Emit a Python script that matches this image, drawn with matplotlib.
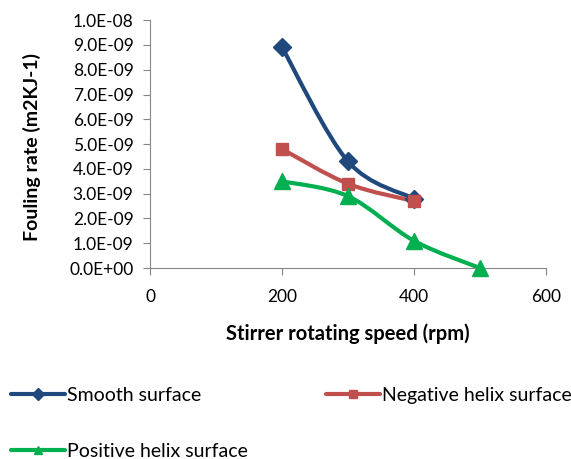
import matplotlib
matplotlib.use("Agg")
import matplotlib.pyplot as plt
from matplotlib.path import Path
from matplotlib.patches import PathPatch
from matplotlib.lines import Line2D
from matplotlib.ticker import FuncFormatter, MultipleLocator
import numpy as np

plt.rcParams['font.family'] = ['Lato', 'DejaVu Sans']

speed = [200, 300, 400, 500]
smooth = [8.9e-9, 4.3e-9, 2.8e-9]
negative = [4.8e-9, 3.4e-9, 2.7e-9]
positive = [3.5e-9, 2.9e-9, 1.1e-9, 0.0]

names = ["Smooth surface", "Negative helix surface", "Positive helix surface"]
colors = ["#1F497D", "#C0504D", "#00B050"]
markers = ["D", "s", "^"]
msizes = [9, 9, 11]


def smooth_path(x, y):
    # excel-like smoothed line: catmull-rom turned into bezier segments
    p = np.column_stack([x, y]).astype(float)
    verts = [p[0]]
    codes = [Path.MOVETO]
    n = len(p)
    for i in range(n - 1):
        p0 = p[i - 1] if i > 0 else p[i]
        p1, p2 = p[i], p[i + 1]
        p3 = p[i + 2] if i + 2 < n else p[i + 1]
        verts += [p1 + (p2 - p0) / 6, p2 - (p3 - p1) / 6, p2]
        codes += [Path.CURVE4] * 3
    return Path(verts, codes)


fig = plt.figure(figsize=(5.71, 4.59), dpi=100)
ax = fig.add_axes([0.263, 0.416, 0.693, 0.540])

series = [smooth, negative, positive]
handles = []
for vals, name, c, m, ms in zip(series, names, colors, markers, msizes):
    xs = speed[:len(vals)]
    ax.add_patch(PathPatch(smooth_path(xs, vals), facecolor='none',
                           edgecolor=c, lw=3, capstyle='round', zorder=2))
    ax.plot(xs, vals, linestyle='none', marker=m, color=c, markersize=ms,
            clip_on=False, zorder=3)
    handles.append(Line2D([], [], color=c, lw=3, marker=m, markersize=6,
                          solid_capstyle='round'))

ax.set_xlim(0, 600)
ax.set_ylim(0, 1e-8)
ax.xaxis.set_major_locator(MultipleLocator(200))
ax.yaxis.set_major_locator(MultipleLocator(1e-9))
ax.yaxis.set_major_formatter(FuncFormatter(lambda v, p: '%.1E' % v))

for s in ['top', 'right']:
    ax.spines[s].set_visible(False)
for s in ['left', 'bottom']:
    ax.spines[s].set_color('#868686')
ax.tick_params(axis='both', direction='out', length=5, color='#868686',
               labelsize=12.5, colors='black')
ax.tick_params(axis='y', pad=7)
ax.tick_params(axis='x', pad=10)

ax.set_xlabel("Stirrer rotating speed (rpm)", fontsize=14.5, fontweight='bold')
ax.set_ylabel("Fouling rate (m2KJ-1)", fontsize=14, fontweight='bold')
ax.xaxis.set_label_coords(0.5, -0.225)
ax.yaxis.set_label_coords(-0.275, 0.49)

# row-wise order: smooth, negative / positive
order = [0, 2, 1]
fig.legend([handles[i] for i in order], [names[i] for i in order],
           loc='upper left', bbox_to_anchor=(-0.012, 0.195),
           ncol=2, frameon=False, fontsize=14, handlelength=2.8,
           handletextpad=0.1, columnspacing=4.0, labelspacing=2.0)

fig.savefig("out.png", dpi=100)
